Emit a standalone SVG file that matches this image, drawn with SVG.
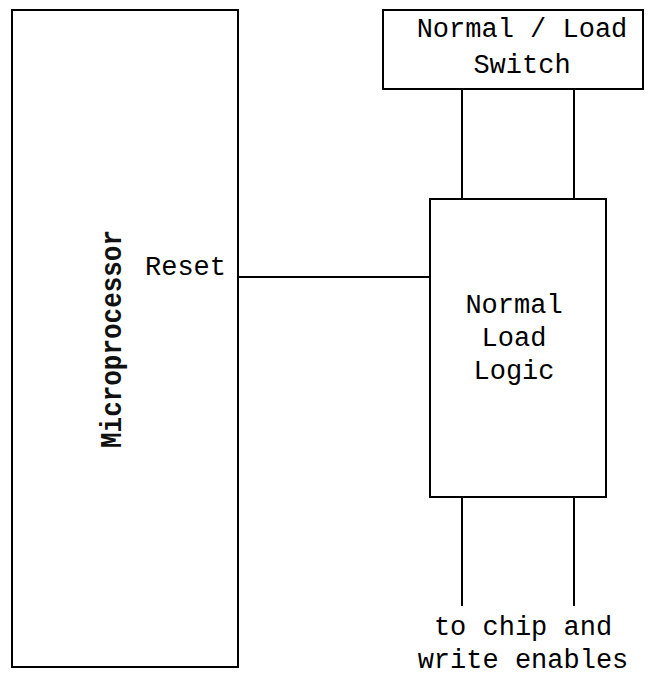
<svg xmlns="http://www.w3.org/2000/svg" width="658" height="677" viewBox="0 0 658 677">
<style>
.box{fill:#fff;stroke:#000;stroke-width:2}
.wire{stroke:#000;stroke-width:2;fill:none}
.t{font-family:"Liberation Mono","Courier New",monospace;font-size:27px;fill:#000}
.m{text-anchor:middle}
.v{font-size:29px;font-weight:bold;fill:#111}
</style>
<rect width="658" height="677" fill="#fff"/>
<g id="connectors">
<line class="wire" x1="238" y1="277" x2="430" y2="277"/>
<line class="wire" x1="462" y1="90" x2="462" y2="199"/>
<line class="wire" x1="574" y1="90" x2="574" y2="199"/>
<line class="wire" x1="462" y1="497" x2="462" y2="606"/>
<line class="wire" x1="574" y1="497" x2="574" y2="606"/>
</g>
<g id="microprocessor">
<rect class="box" x="12" y="10" width="226" height="657"/>
<text class="t v" transform="translate(121,448) rotate(-90)" textLength="218" lengthAdjust="spacingAndGlyphs">Microprocessor</text>
<text class="t" x="145" y="275">Reset</text>
</g>
<g id="switch">
<rect class="box" x="383" y="10" width="260" height="79"/>
<text class="t m" x="522" y="37">Normal / Load</text>
<text class="t m" x="522" y="73">Switch</text>
</g>
<g id="logic">
<rect class="box" x="430" y="199" width="176" height="298"/>
<text class="t m" x="514" y="313">Normal</text>
<text class="t m" x="514" y="346">Load</text>
<text class="t m" x="514" y="379">Logic</text>
</g>
<g id="output-label">
<text class="t m" x="523" y="635">to chip and</text>
<text class="t m" x="523" y="668">write enables</text>
</g>
</svg>
